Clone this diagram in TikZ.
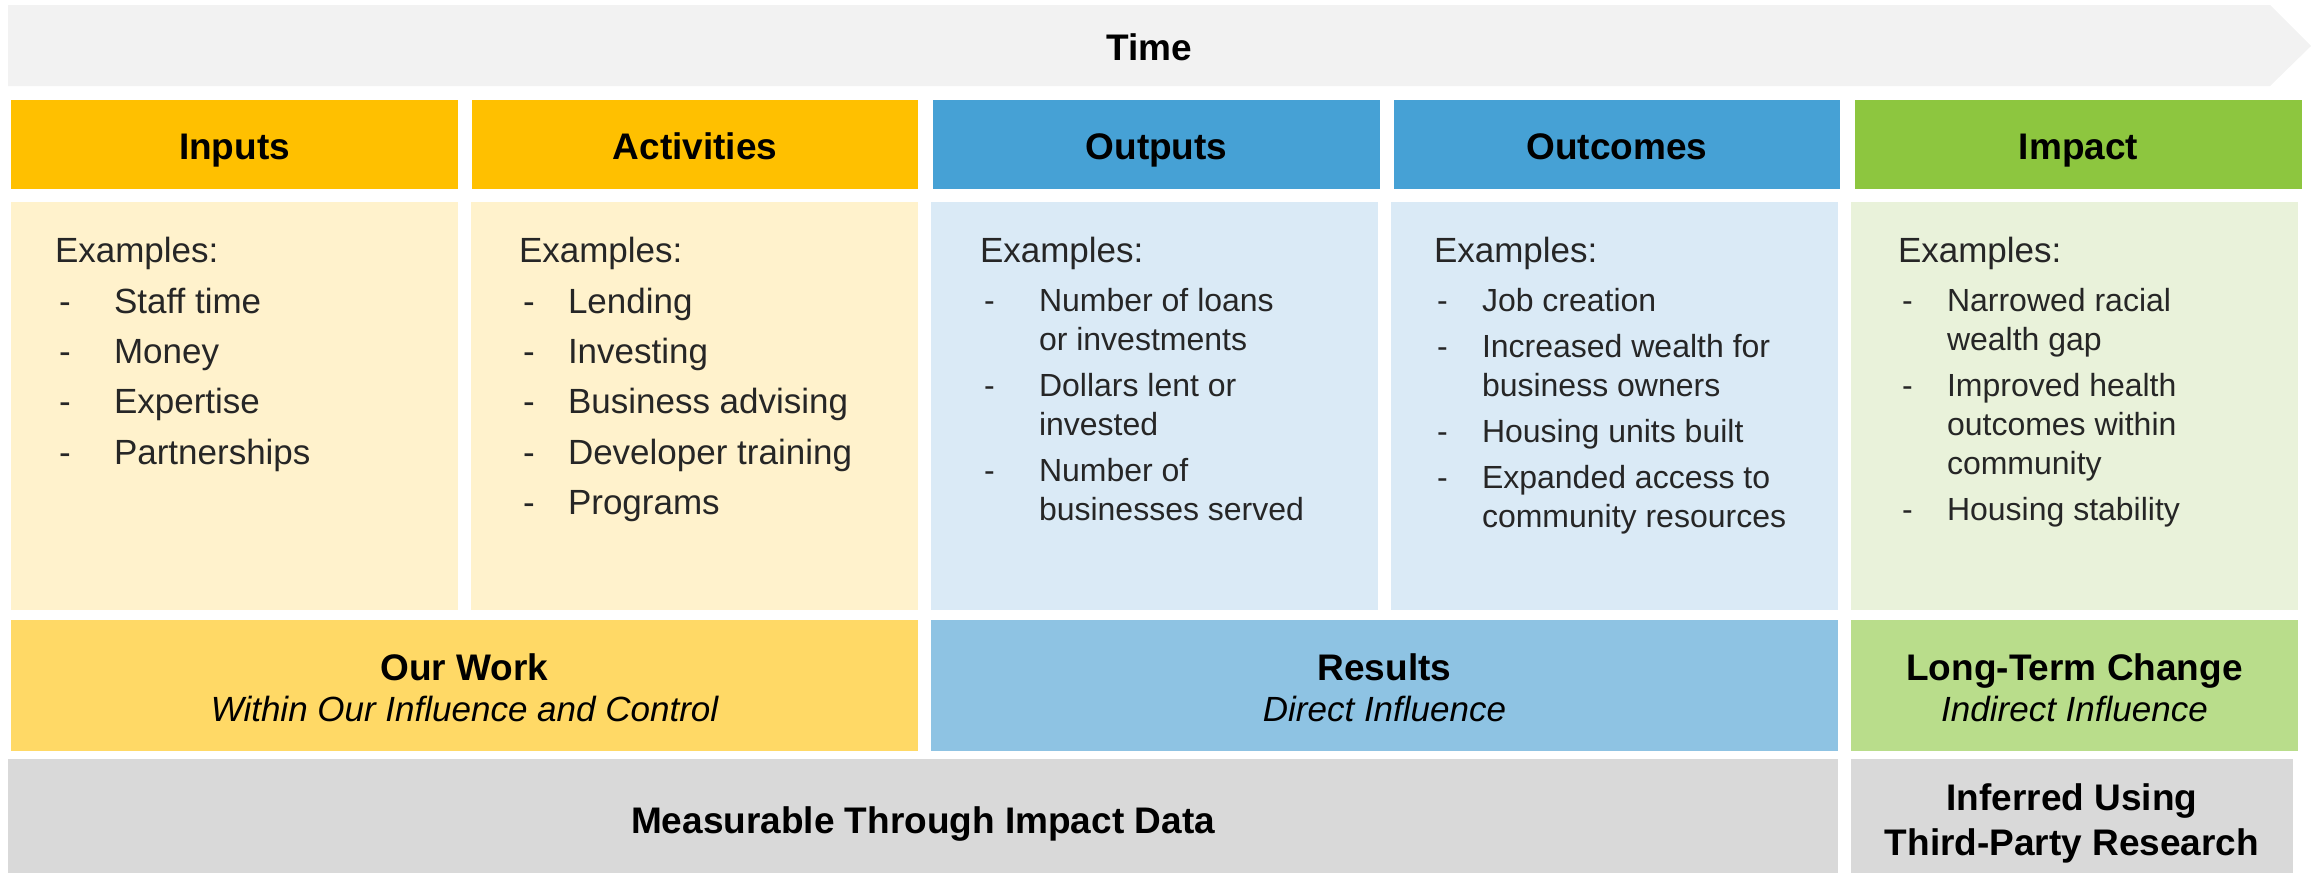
\documentclass[tikz,border=0pt]{standalone}
\usepackage{fontspec}
\setmainfont{Liberation Sans}
\definecolor{arrowgray}{HTML}{F2F2F2}
\definecolor{hyellow}{HTML}{FFC000}
\definecolor{hblue}{HTML}{46A1D5}
\definecolor{hgreen}{HTML}{8DC63F}
\definecolor{cyellow}{HTML}{FFF2CC}
\definecolor{cblue}{HTML}{DAEAF6}
\definecolor{cgreen}{HTML}{E9F2DA}
\definecolor{syellow}{HTML}{FFD966}
\definecolor{sblue}{HTML}{8EC3E3}
\definecolor{sgreen}{HTML}{B9DD8B}
\definecolor{bgray}{HTML}{D9D9D9}
\definecolor{txtgray}{HTML}{262626}
\newcommand\myBold{\fontsize{37}{44}\selectfont\bfseries}
\newcommand\myIt{\fontsize{35}{42}\selectfont\itshape}
\newcommand\myReg{\fontsize{35}{42}\selectfont}
\newcommand\mySmall{\fontsize{32}{39}\selectfont}
\tikzset{
  box/.style={rectangle, inner sep=0pt, outer sep=0pt, draw=none, anchor=north west},
  lbl/.style={inner sep=0pt, outer sep=0pt, anchor=base, font=\myBold, text=black},
  itl/.style={inner sep=0pt, outer sep=0pt, anchor=base, font=\myIt, text=black},
  exm/.style={inner sep=0pt, outer sep=0pt, anchor=base west, font=\myReg, text=txtgray},
  itm/.style={inner sep=0pt, outer sep=0pt, anchor=base west, font=\myReg, text=txtgray},
  sitm/.style={inner sep=0pt, outer sep=0pt, anchor=base west, font=\mySmall, text=txtgray}
}
\begin{document}
\begin{tikzpicture}[x=1pt,y=-1pt]
\useasboundingbox (0,0) rectangle (2318,873);
% time arrow
\fill[arrowgray] (8,5) -- (2270,5) -- (2311,46) -- (2270,86) -- (8,86) -- cycle;
\node[lbl] (time) at (1149,60) {Time};
% headers
\node[box, fill=hyellow, minimum width=447pt, minimum height=89pt] (h1) at (11,100) {};
\node[box, fill=hyellow, minimum width=446pt, minimum height=89pt] (h2) at (472,100) {};
\node[box, fill=hblue, minimum width=447pt, minimum height=89pt] (h3) at (933,100) {};
\node[box, fill=hblue, minimum width=446pt, minimum height=89pt] (h4) at (1394,100) {};
\node[box, fill=hgreen, minimum width=447pt, minimum height=89pt] (h5) at (1855,100) {};
\node[lbl] (t1) at (234.5,159) {Inputs};
\node[lbl] (t2) at (695,159) {Activities};
\node[lbl] (t3) at (1156.5,159) {Outputs};
\node[lbl] (t4) at (1617,159) {Outcomes};
\node[lbl] (t5) at (2078.5,159) {Impact};
% content
\node[box, fill=cyellow, minimum width=447pt, minimum height=408pt] (c1) at (11,202) {};
\node[box, fill=cyellow, minimum width=447pt, minimum height=408pt] (c2) at (471,202) {};
\node[box, fill=cblue, minimum width=447pt, minimum height=408pt] (c3) at (931,202) {};
\node[box, fill=cblue, minimum width=447pt, minimum height=408pt] (c4) at (1391,202) {};
\node[box, fill=cgreen, minimum width=447pt, minimum height=408pt] (c5) at (1851,202) {};
\node[exm] (e1) at (55,262) {Examples:};
\node[exm] (e2) at (519,262) {Examples:};
\node[exm] (e3) at (980,262) {Examples:};
\node[exm] (e4) at (1434,262) {Examples:};
\node[exm] (e5) at (1898,262) {Examples:};
% column 1
\foreach \yy/\tt [count=\i] in {313/Staff time, 363/Money, 413/Expertise, 464/Partnerships}{
  \node[itm] (d1\i) at (59,\yy) {-};
  \node[itm] (a1\i) at (114,\yy) {\tt};
}
% column 2
\foreach \yy/\tt [count=\i] in {313/Lending, 363/Investing, 413/Business advising, 464/Developer training, 514/Programs}{
  \node[itm] (d2\i) at (523,\yy) {-};
  \node[itm] (a2\i) at (568,\yy) {\tt};
}
% column 3
\foreach \yy [count=\i] in {311,396,481}{ \node[sitm] (d3\i) at (984,\yy) {-}; }
\foreach \yy/\tt [count=\i] in {311/Number of loans, 350/or investments, 396/Dollars lent or, 435/invested, 481/Number of, 520/businesses served}{
  \node[sitm] (a3\i) at (1039,\yy) {\tt};
}
% column 4
\foreach \yy [count=\i] in {311,357,442,488}{ \node[sitm] (d4\i) at (1437,\yy) {-}; }
\foreach \yy/\tt [count=\i] in {311/Job creation, 357/Increased wealth for, 396/business owners, 442/Housing units built, 488/Expanded access to, 527/community resources}{
  \node[sitm] (a4\i) at (1482,\yy) {\tt};
}
% column 5
\foreach \yy [count=\i] in {311,396,520}{ \node[sitm] (d5\i) at (1902,\yy) {-}; }
\foreach \yy/\tt [count=\i] in {311/Narrowed racial, 350/wealth gap, 396/Improved health, 435/outcomes within, 474/community, 520/Housing stability}{
  \node[sitm] (a5\i) at (1947,\yy) {\tt};
}
% summary row
\node[box, fill=syellow, minimum width=907pt, minimum height=131pt] (s1) at (11,620) {};
\node[box, fill=sblue, minimum width=907pt, minimum height=131pt] (s2) at (931,620) {};
\node[box, fill=sgreen, minimum width=447pt, minimum height=131pt] (s3) at (1851,620) {};
\node[lbl] (s1a) at (464.5,680) {Our Work};
\node[itl] (s1b) at (464.5,721) {Within Our Influence and Control};
\node[lbl] (s2a) at (1384.5,680) {Results};
\node[itl] (s2b) at (1384.5,721) {Direct Influence};
\node[lbl] (s3a) at (2074.5,680) {Long-Term Change};
\node[itl] (s3b) at (2074.5,721) {Indirect Influence};
% bottom row
\node[box, fill=bgray, minimum width=1830pt, minimum height=114pt] (b1) at (8,759) {};
\node[box, fill=bgray, minimum width=442pt, minimum height=114pt] (b2) at (1851,759) {};
\node[lbl] (b1a) at (923,833) {Measurable Through Impact Data};
\node[lbl] (b2a) at (2072,810) {Inferred Using};
\node[lbl] (b2b) at (2072,855) {Third-Party Research};
\end{tikzpicture}
\end{document}
